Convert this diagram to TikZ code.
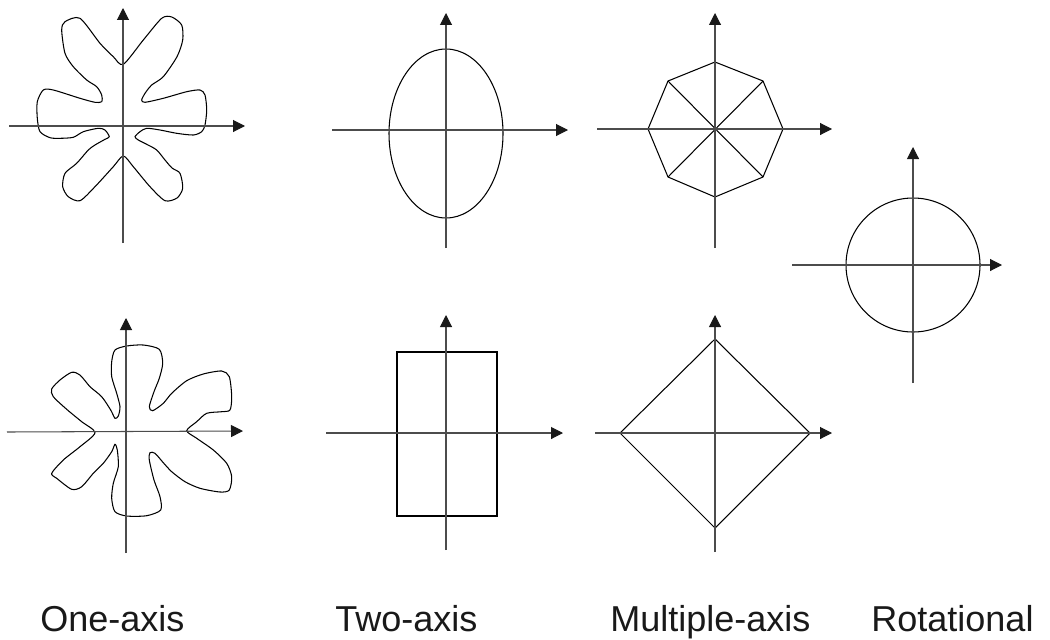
\documentclass[tikz,border=0pt]{standalone}
\usepackage{fontspec}
\setmainfont{Liberation Sans}
\usetikzlibrary{arrows.meta}
\begin{document}
\begin{tikzpicture}[x=0.02cm,y=-0.02cm,
  axis/.style={draw=black!70,line width=0.6pt,-{Triangle[length=0.24cm,width=0.24cm,black!90]}},
  outline/.style={draw=black,line width=0.6pt},
  blob/.style={draw=black,line width=0.6pt,smooth cycle,tension=0.45},
  lbl/.style={anchor=base west,inner sep=0pt,font=\fontsize{20.5}{24}\selectfont,text=black!90}]
\useasboundingbox (0,0) rectangle (1050,639);
% ---- panel 1: one-axis (top)
\coordinate (a1b) at (123,243); \coordinate (a1t) at (123,8);
\coordinate (a1l) at (9,126);   \coordinate (a1r) at (245,126);
\draw[blob] plot coordinates {(123.3,64.3) (143.3,40) (161.7,18.3) (171.7,17) (181.7,25) (182.7,40) (177,56.7) (163.3,76.7) (151.7,85) (145,93.3) (141.7,100) (145,102.3) (163.3,98.3) (186.7,91.7) (200,90) (205,95) (206.7,110) (205,125) (201.7,131.7) (193.3,135) (176.7,133.3) (160,130) (146.7,128.3) (140,131.7) (135,136.7) (138.3,140) (146.7,144.3) (156.7,150) (165,160) (172,168) (180,173.3) (182.7,188.3) (177,198) (165,200.7) (150,186.7) (133.3,166.7) (123.3,156) (113.3,166.7) (95,186.7) (80,200.7) (68.3,196.7) (62.7,186.7) (65,173.3) (76.7,163.3) (88.3,150) (95,145) (105,139.3) (109.3,136.7) (105,130) (98.3,128.3) (83.3,131.7) (73.3,137.3) (60,138.3) (50,137.7) (40,131.7) (37.3,118.3) (37.3,101.7) (43.3,90) (53.3,90) (80,98.3) (95,102.3) (101.7,101.7) (101.7,95) (96.7,86.7) (86.7,80) (73.3,66.7) (65,53.3) (61.7,30) (65,21.7) (80,18.3) (100,43.3) (113.3,56.7)};
\draw[axis] (a1b) -- (a1t);
\draw[axis] (a1l) -- (a1r);
% ---- panel 2: one-axis (bottom)
\coordinate (a2b) at (126,553); \coordinate (a2t) at (126,318);
\coordinate (a2l) at (7,432);   \coordinate (a2r) at (243,431);
\draw[blob] plot coordinates {(115,350) (126.7,346) (143.3,345) (159.3,349.3) (162.7,363.3) (159.3,378.3) (154,391.7) (149.3,406.7) (152.7,410.7) (163.3,403.3) (171.7,393.3) (186.7,380.7) (203.3,374) (221.7,371) (229.3,376.7) (231.7,396.7) (230,410) (221.7,411.7) (206.7,413.3) (196.7,421.7) (186.7,430.7) (196.7,438.3) (213.3,450) (226.7,463.3) (231.7,476.7) (229.3,490) (220,492) (200,488.3) (185,481.7) (171.7,471.7) (163.3,462.7) (155,453.3) (150,452.7) (149.3,460) (154,480) (160,496.7) (160.7,510) (146.7,515.7) (126.7,516) (115,511.7) (111.7,498.3) (113.3,483.3) (118.3,466.7) (117.3,450) (115,444.3) (111.7,451.7) (103.3,463.3) (93.3,473.3) (81.7,486.7) (71.7,489.3) (56.7,478.3) (51.7,473.3) (63.3,460) (80,446.7) (95,432.7) (81.7,421.7) (66.7,409.3) (53.3,396.7) (51.7,389) (60,380) (71.7,372.3) (80,375) (90,386.7) (101.7,396.7) (110.7,410) (115,418.3) (118.3,416) (120,406.7) (116.7,393.3) (111.7,376.7) (111.7,361.7)};
\draw[axis] (a2b) -- (a2t);
\draw[axis] (a2l) -- (a2r);
% ---- panel 3: two-axis ellipse
\coordinate (a3b) at (446,248); \coordinate (a3t) at (446,13);
\coordinate (a3l) at (332,130); \coordinate (a3r) at (568,130);
\draw[outline] (446,133.5) ellipse [x radius=57, y radius=84.5];
\draw[axis] (a3b) -- (a3t);
\draw[axis] (a3l) -- (a3r);
% ---- panel 4: multiple-axis octagon
\coordinate (a4b) at (715,248); \coordinate (a4t) at (715,13);
\coordinate (a4l) at (597,129); \coordinate (a4r) at (832,129);
\coordinate (o1) at (715,62);  \coordinate (o2) at (763,81);
\coordinate (o3) at (783,129); \coordinate (o4) at (763,177);
\coordinate (o5) at (715,197); \coordinate (o6) at (668,177);
\coordinate (o7) at (648,129); \coordinate (o8) at (668,81);
\draw[outline] (o1) -- (o2) -- (o3) -- (o4) -- (o5) -- (o6) -- (o7) -- (o8) -- cycle;
\draw[outline] (o8) -- (o4);
\draw[outline] (o2) -- (o6);
\draw[axis] (a4b) -- (a4t);
\draw[axis] (a4l) -- (a4r);
% ---- panel 5: rotational circle
\coordinate (a5b) at (913,383); \coordinate (a5t) at (913,147);
\coordinate (a5l) at (792,265); \coordinate (a5r) at (1002,265);
\draw[outline] (913,265) circle [radius=67];
\draw[axis] (a5b) -- (a5t);
\draw[axis] (a5l) -- (a5r);
% ---- panel 6: multiple-axis diamond
\coordinate (a6b) at (715,552); \coordinate (a6t) at (715,315);
\coordinate (a6l) at (595,433); \coordinate (a6r) at (832,433);
\coordinate (d1) at (715,339); \coordinate (d2) at (810,433);
\coordinate (d3) at (715,528); \coordinate (d4) at (620,433);
\draw[outline] (d1) -- (d2) -- (d3) -- (d4) -- cycle;
\draw[axis] (a6b) -- (a6t);
\draw[axis] (a6l) -- (a6r);
% ---- panel 7: two-axis rectangle
\coordinate (a7b) at (446,550); \coordinate (a7t) at (446,315);
\coordinate (a7l) at (326,433); \coordinate (a7r) at (563,433);
\draw[outline] (397,352) rectangle (497,516);
\draw[axis] (a7b) -- (a7t);
\draw[axis] (a7l) -- (a7r);
% ---- labels
\node[lbl] (l1) at (40,631) {One-axis};
\node[lbl] (l2) at (335,631) {Two-axis};
\node[lbl] (l3) at (610,631) {Multiple-axis};
\node[lbl] (l4) at (871,631) {Rotational};
\end{tikzpicture}
\end{document}
